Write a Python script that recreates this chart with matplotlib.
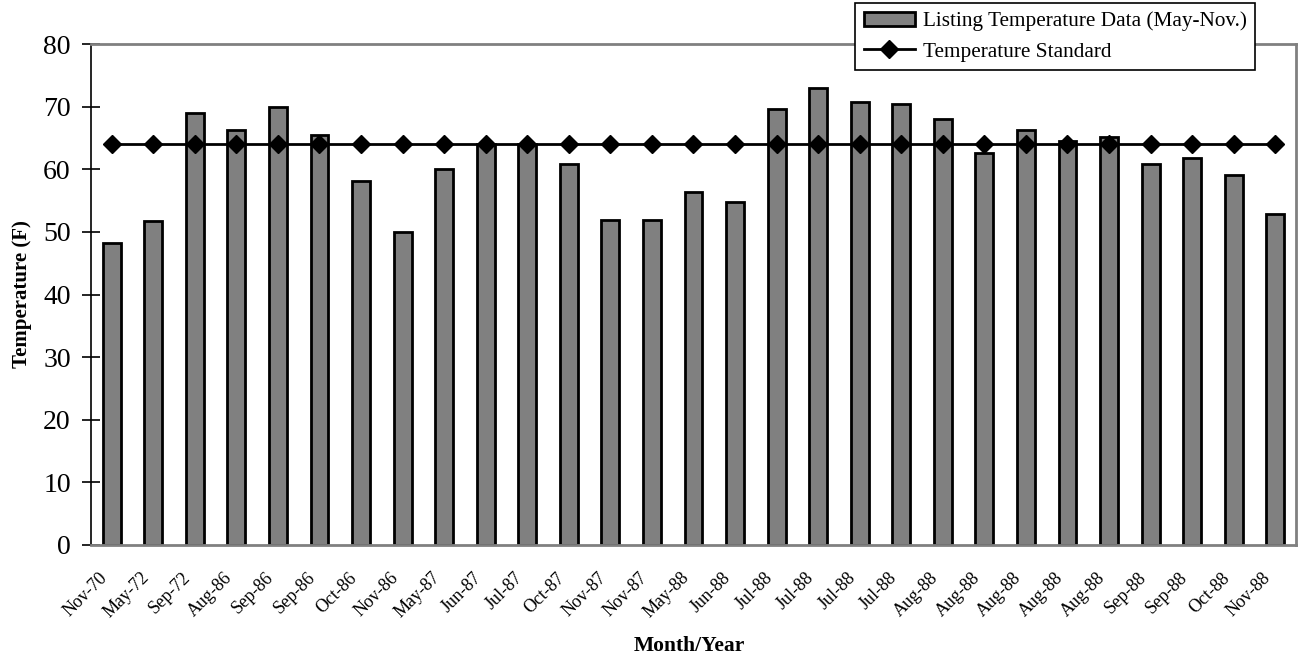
import matplotlib.pyplot as plt
import matplotlib.transforms as mtransforms
import numpy as np

plt.rcParams['font.family'] = ['Liberation Serif', 'DejaVu Serif']

months = ['Nov-70', 'May-72', 'Sep-72', 'Aug-86', 'Sep-86', 'Sep-86', 'Oct-86', 'Nov-86',
          'May-87', 'Jun-87', 'Jul-87', 'Oct-87', 'Nov-87', 'Nov-87', 'May-88', 'Jun-88',
          'Jul-88', 'Jul-88', 'Jul-88', 'Jul-88', 'Aug-88', 'Aug-88', 'Aug-88', 'Aug-88',
          'Aug-88', 'Sep-88', 'Sep-88', 'Oct-88', 'Nov-88']
temps = [48.3, 51.8, 69.0, 66.3, 70.0, 65.5, 58.1, 50.0, 60.0, 64.0, 64.0, 60.8, 51.9, 51.9,
         56.3, 54.7, 69.7, 73.0, 70.7, 70.5, 68.1, 62.6, 66.3, 64.5, 65.2, 60.8, 61.8, 59.1, 52.8]
standard = [64.0] * len(months)

x = np.arange(len(months))

fig = plt.figure(figsize=(12.99, 6.57), dpi=100)
ax = fig.add_axes([0.070, 0.1705, 0.9277, 0.7625])

bars = ax.bar(x, temps, width=0.43, color='#808080', edgecolor='black', linewidth=2,
              label='Listing Temperature Data (May-Nov.)', zorder=2)
line, = ax.plot(x, standard, color='black', linewidth=2, marker='D', markersize=9,
                label='Temperature Standard', zorder=3)

ax.set_xlim(-0.5, len(months) - 0.5)
ax.set_ylim(0, 80)
ax.set_yticks(range(0, 81, 10))
ax.tick_params(axis='y', direction='inout', length=13, width=1.2, labelsize=20, pad=8)
ax.tick_params(axis='x', length=0, labelsize=13, pad=6)
ax.set_xticks(x)
ax.set_xticklabels(months, rotation=45, ha='right', rotation_mode='anchor')

# push the slanted month labels down/left a bit
shift = mtransforms.ScaledTranslation(-13 / 100, -16 / 100, fig.dpi_scale_trans)
for lbl in ax.get_xticklabels():
    lbl.set_transform(lbl.get_transform() + shift)

for side in ['top', 'right', 'bottom']:
    ax.spines[side].set_color('#808080')
    ax.spines[side].set_linewidth(2)
ax.spines['left'].set_color('black')
ax.spines['left'].set_linewidth(1.2)

ax.set_ylabel('Temperature (F)', fontsize=15, fontweight='bold', labelpad=8)
ax.set_xlabel('Month/Year', fontsize=15.5, fontweight='bold')
ax.xaxis.set_label_coords(0.497, -0.182)

leg = fig.legend([bars, line], [bars.get_label(), line.get_label()],
                 loc='upper left', bbox_to_anchor=(855 / 1299, 1 - 3 / 657),
                 fontsize=15.3, frameon=True, fancybox=False, framealpha=1,
                 edgecolor='black', handlelength=2.4, borderpad=0.4, labelspacing=0.5,
                 handletextpad=0.4, borderaxespad=0)
leg.get_frame().set_linewidth(1.2)

plt.savefig('out.png', dpi=100)
